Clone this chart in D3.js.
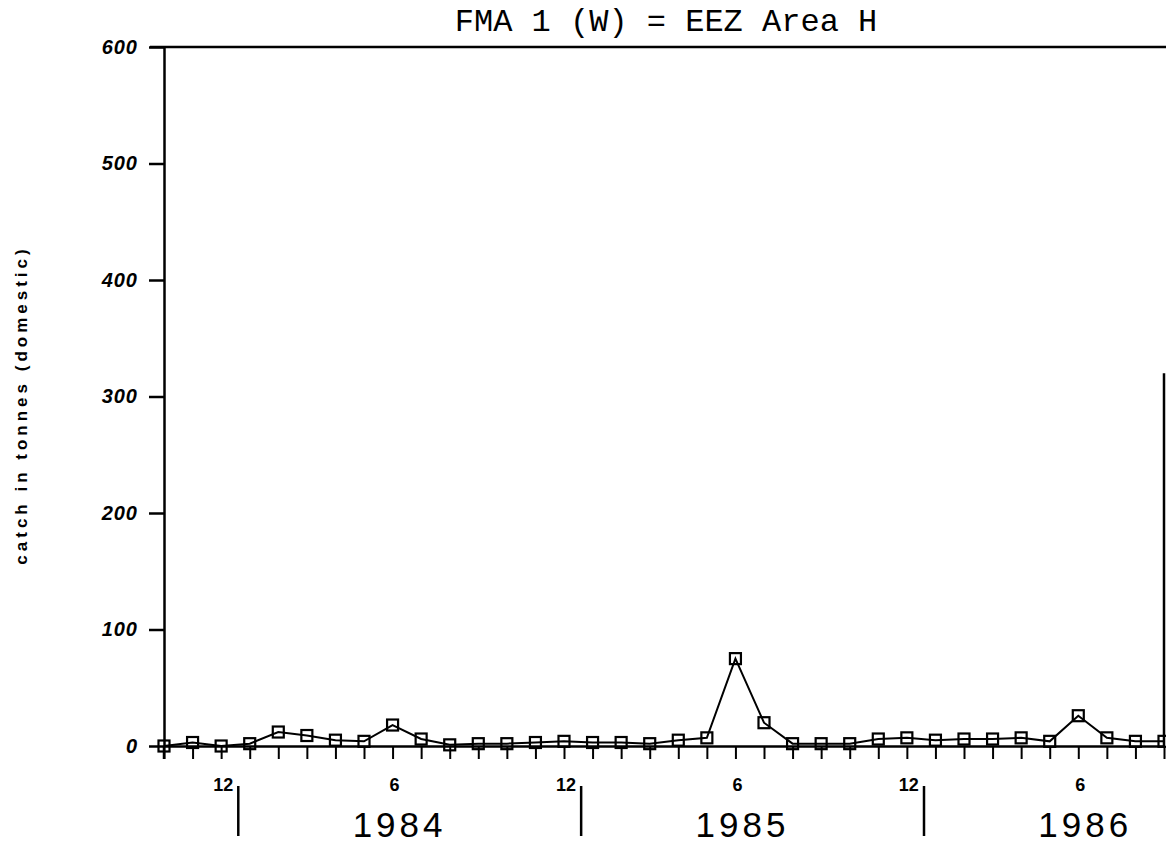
<!DOCTYPE html>

<head>
    <meta charset="utf-8">
    <script src="https://d3js.org/d3.v7.min.js"></script>
    <style>
        body { margin: 0; background: #fff; }
    </style>
</head>

<body>
    <script>
        ////////////// Data //////////////

        //one point per month, Oct 1983 - Sep 1986
        const months = [
            "1983-10", "1983-11", "1983-12",
            "1984-01", "1984-02", "1984-03", "1984-04", "1984-05", "1984-06",
            "1984-07", "1984-08", "1984-09", "1984-10", "1984-11", "1984-12",
            "1985-01", "1985-02", "1985-03", "1985-04", "1985-05", "1985-06",
            "1985-07", "1985-08", "1985-09", "1985-10", "1985-11", "1985-12",
            "1986-01", "1986-02", "1986-03", "1986-04", "1986-05", "1986-06",
            "1986-07", "1986-08", "1986-09"
        ]

        //catch in tonnes (domestic)
        const catchTonnes = [
            0, 3, 0,
            2, 12, 9, 5, 4, 18,
            6, 1, 2, 2, 3, 4,
            3, 3, 2, 5, 7, 75,
            20, 2, 2, 2, 6, 7,
            5, 6, 6, 7, 4, 26,
            7, 4, 4
        ]

        const yTicks = [0, 100, 200, 300, 400, 500, 600]

        //labelled months under the axis
        const monthLabels = [
            { month: "1983-12", label: "12" },
            { month: "1984-06", label: "6" },
            { month: "1984-12", label: "12" },
            { month: "1985-06", label: "6" },
            { month: "1985-12", label: "12" },
            { month: "1986-06", label: "6" }
        ]

        //year label sits under June, divider after December
        const years = ["1984", "1985", "1986"]
        const yearDividers = ["1983-12", "1984-12", "1985-12"]

        const title = "FMA 1 (W) = EEZ Area H"
        const yTitle = "catch in tonnes (domestic)"

        ////////////// Create the SVG //////////////

        let width = 1166,
            height = 847

        let svg = d3.select("body")
            .append("svg")
            .attr("width", width)
            .attr("height", height)

        ////////////// Scales //////////////

        const x_scale = d3.scalePoint()
            .domain(months)
            .range([164, 1164])

        const y_scale = d3.scaleLinear()
            .domain([0, 600])
            .range([746, 47])

        const step = x_scale.step()

        ////////////// Frame //////////////

        //top border
        svg.append("line")
            .attr("x1", 150).attr("x2", width)
            .attr("y1", y_scale(600)).attr("y2", y_scale(600))
            .style("stroke", "#000").style("stroke-width", 2.5)

        //partial right border (only the lower part survives)
        svg.append("line")
            .attr("x1", x_scale(months[months.length - 1]))
            .attr("x2", x_scale(months[months.length - 1]))
            .attr("y1", y_scale(320)).attr("y2", y_scale(0))
            .style("stroke", "#000").style("stroke-width", 2.5)

        ////////////// Axes //////////////

        let y_axis = svg.append("g")
            .attr("transform", `translate(${x_scale.range()[0]},0)`)
            .call(d3.axisLeft(y_scale).tickValues(yTicks).tickSize(15).tickSizeOuter(0).tickPadding(11))

        y_axis.select(".domain").style("stroke-width", 2.5)
        y_axis.selectAll(".tick line").style("stroke-width", 2.5)
        y_axis.selectAll(".tick text")
            .style("font-family", "'Liberation Sans', Arial, sans-serif")
            .style("font-size", "20px")
            .style("font-weight", "bold")
            .style("font-style", "italic")
            .style("letter-spacing", "1px")

        //y axis runs a little below zero
        svg.append("line")
            .attr("x1", x_scale.range()[0]).attr("x2", x_scale.range()[0])
            .attr("y1", y_scale(0)).attr("y2", y_scale(0) + 13)
            .style("stroke", "#000").style("stroke-width", 2.5)

        let x_axis = svg.append("g")
            .attr("transform", `translate(0,${y_scale(0)})`)
            .call(d3.axisBottom(x_scale).tickSize(13).tickSizeOuter(0).tickFormat(""))

        x_axis.select(".domain").style("stroke-width", 2.5)
        x_axis.selectAll(".tick line").style("stroke-width", 2)

        //month labels
        svg.selectAll(".month-label")
            .data(monthLabels)
            .enter().append("text")
            .attr("class", "month-label")
            .attr("x", d => x_scale(d.month) + 2)
            .attr("y", 791)
            .attr("text-anchor", "middle")
            .style("font-family", "'Liberation Sans', Arial, sans-serif")
            .style("font-size", "18px")
            .style("font-weight", "bold")
            .text(d => d.label)

        //year labels
        svg.selectAll(".year-label")
            .data(years)
            .enter().append("text")
            .attr("class", "year-label")
            .attr("x", d => x_scale(d + "-06") + 7)
            .attr("y", 837)
            .attr("text-anchor", "middle")
            .style("font-family", "'Liberation Sans', Arial, sans-serif")
            .style("font-size", "35px")
            .style("letter-spacing", "4px")
            .text(d => d)

        //year dividers
        svg.selectAll(".year-divider")
            .data(yearDividers)
            .enter().append("line")
            .attr("class", "year-divider")
            .attr("x1", d => x_scale(d) + step * 0.6)
            .attr("x2", d => x_scale(d) + step * 0.6)
            .attr("y1", 786).attr("y2", 836)
            .style("stroke", "#000").style("stroke-width", 2.5)

        ////////////// Titles //////////////

        svg.append("text")
            .attr("x", 666)
            .attr("y", 31)
            .attr("text-anchor", "middle")
            .style("font-family", "'Liberation Mono', 'Courier New', monospace")
            .style("font-size", "32px")
            .text(title)

        svg.append("text")
            .attr("transform", "translate(27,405) rotate(-90)")
            .attr("text-anchor", "middle")
            .style("font-family", "'Liberation Sans', Arial, sans-serif")
            .style("font-size", "17px")
            .style("font-weight", "bold")
            .style("letter-spacing", "4px")
            .text(yTitle)

        ////////////// Series //////////////

        const line = d3.line()
            .x((d, i) => x_scale(months[i]))
            .y(d => y_scale(d))

        svg.append("path")
            .datum(catchTonnes)
            .attr("d", line)
            .style("fill", "none")
            .style("stroke", "#000")
            .style("stroke-width", 2)

        const sq = 11
        svg.selectAll(".marker")
            .data(catchTonnes)
            .enter().append("rect")
            .attr("class", "marker")
            .attr("x", (d, i) => x_scale(months[i]) - sq / 2)
            .attr("y", d => y_scale(d) - sq / 2)
            .attr("width", sq)
            .attr("height", sq)
            .style("fill", "none")
            .style("stroke", "#000")
            .style("stroke-width", 2.2)

    </script>
</body>
